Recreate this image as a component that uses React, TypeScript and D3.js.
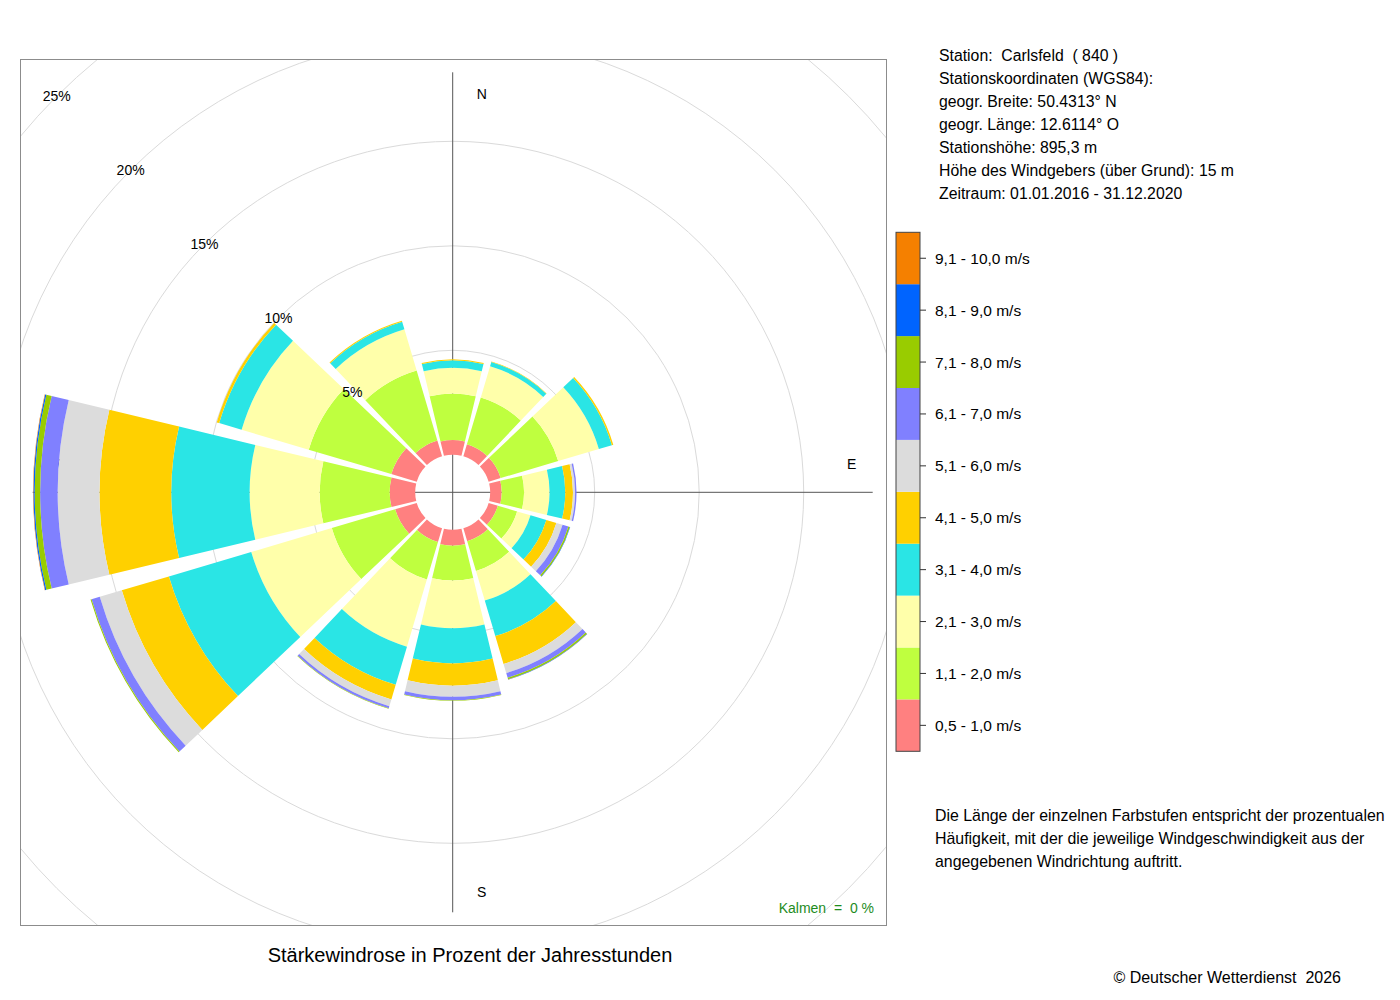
import React, { useRef, useEffect } from 'react'
import * as d3 from 'd3'

// wind directions (degrees, clockwise from north)
const directions = [0, 30, 60, 90, 120, 150, 180, 210, 240, 270, 300, 330]

const speedClasses = [
  '0,5 - 1,0 m/s', '1,1 - 2,0 m/s', '2,1 - 3,0 m/s', '3,1 - 4,0 m/s', '4,1 - 5,0 m/s',
  '5,1 - 6,0 m/s', '6,1 - 7,0 m/s', '7,1 - 8,0 m/s', '8,1 - 9,0 m/s', '9,1 - 10,0 m/s'
]
const classColors = [
  '#ff8080', '#bfff3f', '#ffffaa', '#2ae5e5', '#ffd000',
  '#dcdcdc', '#8080ff', '#99cc00', '#0064ff', '#f58000'
]

// percent of yearly hours per direction, one array per speed class
const speed05to10 = [0.71, 0.60, 0.60, 0.55, 0.46, 0.65, 0.76, 0.69, 1.08, 1.22, 1.27, 0.79]
const speed11to20 = [2.22, 2.34, 2.87, 1.07, 0.96, 1.48, 1.67, 1.87, 3.16, 3.35, 4.12, 3.49]
const speed21to30 = [1.23, 1.56, 2.03, 1.22, 0.67, 1.48, 2.28, 3.35, 4.02, 3.35, 3.35, 2.06]
const speed31to40 = [0.36, 0.21, 0.65, 0.75, 0.79, 1.77, 1.68, 1.90, 4.11, 3.75, 1.12, 0.38]
const speed41to50 = [0.05, 0.02, 0.07, 0.37, 0.50, 1.39, 1.07, 0.73, 2.35, 3.43, 0.12, 0.05]
const speed51to60 = [0, 0, 0, 0.10, 0.31, 0.46, 0.53, 0.34, 1.10, 2.00, 0, 0]
const speed61to70 = [0, 0, 0, 0.07, 0.29, 0.23, 0.16, 0.10, 0.41, 0.84, 0, 0]
const speed71to80 = [0, 0, 0, 0, 0.07, 0.07, 0.03, 0.03, 0.05, 0.26, 0, 0]
const speed81to90 = [0, 0, 0, 0, 0.02, 0.02, 0, 0, 0, 0.06, 0, 0]
const speed91to100 = [0, 0, 0, 0, 0, 0.01, 0, 0, 0, 0.02, 0, 0]

const gridPercents = [5, 10, 15, 20, 25]

const stationInfo = [
  'Station:  Carlsfeld  ( 840 )',
  'Stationskoordinaten (WGS84):',
  'geogr. Breite: 50.4313° N',
  'geogr. Länge: 12.6114° O',
  'Stationshöhe: 895,3 m',
  'Höhe des Windgebers (über Grund): 15 m',
  'Zeitraum: 01.01.2016 - 31.12.2020'
]
const noteLines = [
  'Die Länge der einzelnen Farbstufen entspricht der prozentualen',
  'Häufigkeit, mit der die jeweilige Windgeschwindigkeit aus der',
  'angegebenen Windrichtung auftritt.'
]

const FONT = '"Liberation Sans", Arial, Helvetica, sans-serif'

export default function App() {
  const svgRef = useRef<SVGSVGElement | null>(null)

  useEffect(() => {
    if (!svgRef.current) return
    const svg = d3.select(svgRef.current)
    svg.selectAll('*').remove()

    const series = [
      speed05to10, speed11to20, speed21to30, speed31to40, speed41to50,
      speed51to60, speed61to70, speed71to80, speed81to90, speed91to100
    ]

    const cx = 452.7
    const cy = 492.3
    const box = { x: 20, y: 59, size: 866 }
    const rScale = d3.scaleLinear().domain([0, 25]).range([37.5, 560])
    const halfWidth = 13.5
    const rad = (deg: number) => (deg * Math.PI) / 180

    svg.append('rect').attr('width', 1400).attr('height', 1000).attr('fill', '#fff')

    svg.append('defs').append('clipPath').attr('id', 'plotClip')
      .append('rect')
      .attr('x', box.x).attr('y', box.y)
      .attr('width', box.size).attr('height', box.size)

    const clipped = svg.append('g').attr('clip-path', 'url(#plotClip)')
    const plot = clipped.append('g').attr('transform', `translate(${cx},${cy})`)

    // grid circles
    plot.selectAll('circle.grid')
      .data(gridPercents)
      .enter().append('circle')
      .attr('class', 'grid')
      .attr('r', d => rScale(d))
      .attr('fill', 'none')
      .attr('stroke', '#dadada')
      .attr('stroke-width', 1)

    // cross lines
    plot.append('line')
      .attr('x1', 0).attr('x2', 0).attr('y1', -420).attr('y2', 420)
      .attr('stroke', '#555').attr('stroke-width', 1)
    plot.append('line')
      .attr('x1', -420).attr('x2', 420).attr('y1', 0).attr('y2', 0)
      .attr('stroke', '#555').attr('stroke-width', 1)

    // direction labels (W lies underneath the west sector)
    const dirLabels = [
      { t: 'N', x: 29, y: -398 },
      { t: 'E', x: 399, y: -28 },
      { t: 'S', x: 29, y: 400 },
      { t: 'W', x: -399, y: -28 }
    ]
    plot.selectAll('text.dir')
      .data(dirLabels)
      .enter().append('text')
      .attr('class', 'dir')
      .attr('x', d => d.x).attr('y', d => d.y)
      .attr('text-anchor', 'middle')
      .attr('dominant-baseline', 'central')
      .style('font-family', FONT)
      .style('font-size', '14px')
      .text(d => d.t)

    // stacked sectors
    const arc = d3.arc<{ start: number; end: number; inner: number; outer: number }>()
      .innerRadius(d => d.inner)
      .outerRadius(d => d.outer)
      .startAngle(d => d.start)
      .endAngle(d => d.end)

    directions.forEach((dir, i) => {
      let cum = 0
      series.forEach((values, k) => {
        const v = values[i]
        if (v <= 0) return
        const inner = rScale(cum)
        cum += v
        const outer = rScale(cum)
        plot.append('path')
          .attr('d', arc({
            start: rad(dir - halfWidth),
            end: rad(dir + halfWidth),
            inner,
            outer
          }) as string)
          .attr('fill', classColors[k])
      })
    })

    // percentage labels along the north-west diagonal
    const diag = rad(315)
    plot.selectAll('text.pct')
      .data(gridPercents)
      .enter().append('text')
      .attr('class', 'pct')
      .attr('x', d => rScale(d) * Math.sin(diag))
      .attr('y', d => -rScale(d) * Math.cos(diag))
      .attr('text-anchor', 'middle')
      .attr('dominant-baseline', 'central')
      .style('font-family', FONT)
      .style('font-size', '14px')
      .text(d => `${d}%`)

    // plot frame
    svg.append('rect')
      .attr('x', box.x + 0.5).attr('y', box.y + 0.5)
      .attr('width', box.size).attr('height', box.size)
      .attr('fill', 'none')
      .attr('stroke', '#8c8c8c')
      .attr('stroke-width', 1)

    svg.append('text')
      .attr('x', 874).attr('y', 908)
      .attr('text-anchor', 'end')
      .attr('dominant-baseline', 'central')
      .style('font-family', FONT)
      .style('font-size', '14px')
      .style('white-space', 'pre')
      .attr('fill', '#1e8c1e')
      .text('Kalmen  =  0 %')

    svg.append('text')
      .attr('x', 470).attr('y', 955)
      .attr('text-anchor', 'middle')
      .attr('dominant-baseline', 'central')
      .style('font-family', FONT)
      .style('font-size', '20px')
      .text('Stärkewindrose in Prozent der Jahresstunden')

    // station info
    svg.selectAll('text.info')
      .data(stationInfo)
      .enter().append('text')
      .attr('class', 'info')
      .attr('x', 939)
      .attr('y', (_, i) => 55 + i * 23.15)
      .attr('dominant-baseline', 'central')
      .style('font-family', FONT)
      .style('font-size', '15.8px')
      .style('white-space', 'pre')
      .text(d => d)

    // legend colour bar
    const legendTop = 232.3
    const legendH = 519
    const legendScale = d3.scaleBand<number>()
      .domain(d3.range(speedClasses.length).reverse())
      .range([legendTop, legendTop + legendH])
      .padding(0)
    const legend = svg.append('g')
    legend.selectAll('rect.key')
      .data(d3.range(speedClasses.length))
      .enter().append('rect')
      .attr('class', 'key')
      .attr('x', 896).attr('width', 24)
      .attr('y', d => legendScale(d)!)
      .attr('height', legendScale.bandwidth())
      .attr('fill', d => classColors[d])
    legend.append('rect')
      .attr('x', 896).attr('y', legendTop)
      .attr('width', 24).attr('height', legendH)
      .attr('fill', 'none').attr('stroke', '#444').attr('stroke-width', 1)
    legend.selectAll('line.tick')
      .data(d3.range(speedClasses.length))
      .enter().append('line')
      .attr('class', 'tick')
      .attr('x1', 920).attr('x2', 926)
      .attr('y1', d => legendScale(d)! + legendScale.bandwidth() / 2)
      .attr('y2', d => legendScale(d)! + legendScale.bandwidth() / 2)
      .attr('stroke', '#333')
    legend.selectAll('text.lab')
      .data(d3.range(speedClasses.length))
      .enter().append('text')
      .attr('class', 'lab')
      .attr('x', 935)
      .attr('y', d => legendScale(d)! + legendScale.bandwidth() / 2)
      .attr('dominant-baseline', 'central')
      .style('font-family', FONT)
      .style('font-size', '15.5px')
      .text(d => speedClasses[d])

    svg.selectAll('text.note')
      .data(noteLines)
      .enter().append('text')
      .attr('class', 'note')
      .attr('x', 935)
      .attr('y', (_, i) => 815 + i * 23)
      .attr('dominant-baseline', 'central')
      .style('font-family', FONT)
      .style('font-size', '15.9px')
      .text(d => d)

    svg.append('text')
      .attr('x', 1341).attr('y', 977)
      .attr('text-anchor', 'end')
      .attr('dominant-baseline', 'central')
      .style('font-family', FONT)
      .style('font-size', '16px')
      .style('white-space', 'pre')
      .text('© Deutscher Wetterdienst  2026')
  }, [])

  return (
    <svg
      ref={svgRef}
      width={1400}
      height={1000}
      style={{ position: 'absolute', left: 0, top: 0, display: 'block' }}
    />
  )
}
